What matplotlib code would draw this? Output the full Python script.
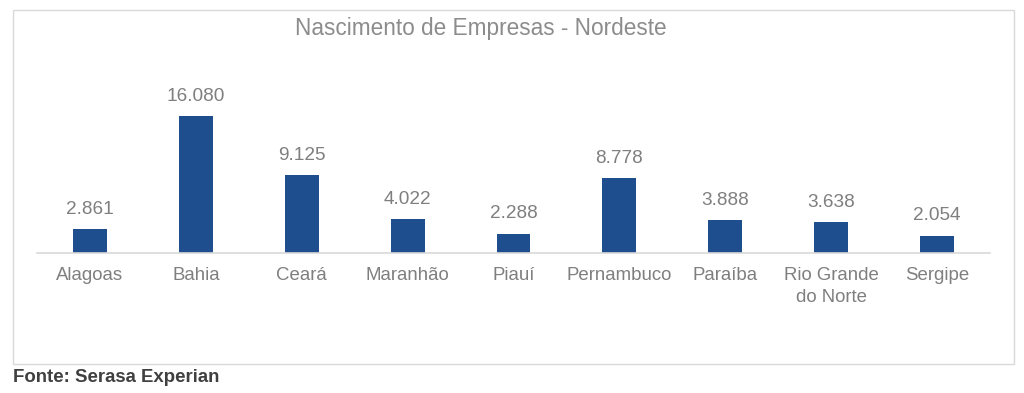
import matplotlib.pyplot as plt
from matplotlib.patches import Rectangle

estados = ['Alagoas', 'Bahia', 'Ceará', 'Maranhão', 'Piauí', 'Pernambuco',
           'Paraíba', 'Rio Grande\ndo Norte', 'Sergipe']
nascimentos = [2861, 16080, 9125, 4022, 2288, 8778, 3888, 3638, 2054]
rotulos = ['2.861', '16.080', '9.125', '4.022', '2.288', '8.778', '3.888', '3.638', '2.054']

plt.rcParams['font.family'] = ['Liberation Sans', 'DejaVu Sans']

W, H = 1024, 393
fig = plt.figure(figsize=(W / 100, H / 100), dpi=100)

# chart frame
fig.patches.append(Rectangle((13 / W, 1 - 364 / H), (1014 - 13) / W, (364 - 10) / H,
                             transform=fig.transFigure, fill=False,
                             edgecolor='#d9d9d9', linewidth=1))

ax = fig.add_axes([37 / W, 1 - 253 / H, (990 - 37) / W, (253 - 116) / H])
x = range(len(estados))
ax.bar(x, nascimentos, width=0.32, color='#1f4e8f', clip_on=False)
ax.set_xlim(-0.5, len(estados) - 0.5)
ax.set_ylim(0, max(nascimentos))

for xi, v, lab in zip(x, nascimentos, rotulos):
    ax.annotate(lab, (xi, v), xytext=(0, 8), textcoords='offset points',
                ha='center', va='bottom', fontsize=13.7, color='#7f7f7f')

ax.set_xticks(list(x))
ax.set_xticklabels(estados, fontsize=13.4, color='#7f7f7f', linespacing=1.4)
ax.tick_params(axis='x', length=0, pad=10)
ax.set_yticks([])
for s in ['top', 'right', 'left']:
    ax.spines[s].set_visible(False)
ax.spines['bottom'].set_color('#d9d9d9')
ax.spines['bottom'].set_linewidth(1.2)

fig.text(481 / W, 1 - 28 / H, 'Nascimento de Empresas - Nordeste', ha='center', va='center',
         fontsize=16.3, color='#8c8c8c')
fig.text(13 / W, 1 - 378 / H, 'Fonte: Serasa Experian', ha='left', va='center',
         fontsize=13.4, fontweight='bold', color='#404040')

plt.savefig('out.png', dpi=100)
